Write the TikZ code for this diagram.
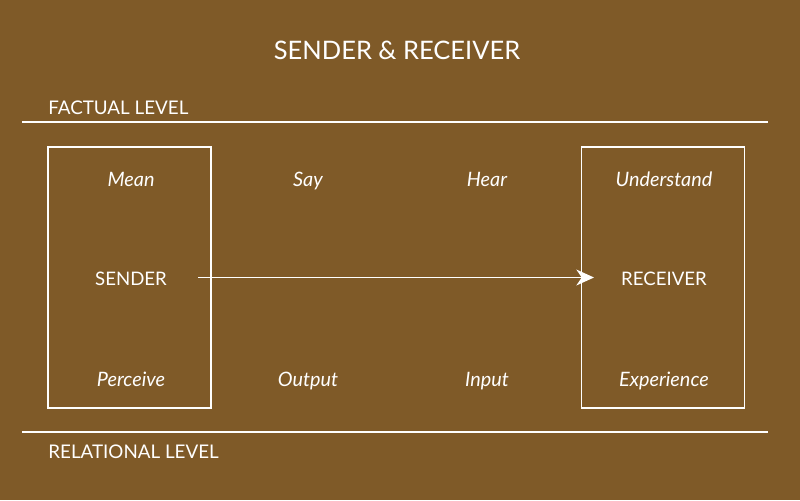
\documentclass[tikz,border=0pt]{standalone}
\usepackage{fontspec}
\setmainfont{Lato}
\usetikzlibrary{arrows.meta}
\definecolor{bgbrown}{RGB}{127,90,40}
\tikzset{
  lvl/.style={anchor=base west, inner sep=0pt, font=\fontsize{10.7}{12}\selectfont},
  word/.style={anchor=base, inner sep=0pt, font=\fontsize{11.3}{13}\selectfont\itshape},
  role/.style={anchor=base, inner sep=0pt, font=\fontsize{10.6}{12}\selectfont},
  frame/.style={draw=white, line width=1pt, minimum width=163*0.02cm, minimum height=261*0.02cm, inner sep=0pt}
}
\begin{document}
\begin{tikzpicture}[x=0.02cm, y=-0.02cm, white]
        \fill[bgbrown] (0,0) rectangle (800,500);
        \node[anchor=base, inner sep=0pt, font=\fontsize{14.5}{16}\selectfont] (title) at (397,60) {SENDER \& RECEIVER};
        % levels
        \node[lvl] (factual) at (48,114) {FACTUAL LEVEL};
        \node[lvl] (relational) at (48,458) {RELATIONAL LEVEL};
        \coordinate (ftl) at (22,122);
        \coordinate (ftr) at (768,122);
        \coordinate (rll) at (22,432);
        \coordinate (rlr) at (768,432);
        \draw[line width=1pt] (ftl)--(ftr);
        \draw[line width=1pt] (rll)--(rlr);
        % boxes
        \node[frame] (leftbox) at (129.5,277.5) {};
        \node[frame] (rightbox) at (663,277.5) {};
        % words
        \node[word] (mean) at (131,186) {Mean};
        \node[word] (say) at (308,186) {Say};
        \node[word] (hear) at (487,186) {Hear};
        \node[word] (understand) at (664,186) {Understand};
        \node[role] (sender) at (131,285) {SENDER};
        \node[role] (receiver) at (664,285) {RECEIVER};
        \node[word] (perceive) at (131,386) {Perceive};
        \node[word] (output) at (308,386) {Output};
        \node[word] (input) at (487,386) {Input};
        \node[word] (experience) at (664,386) {Experience};
        \coordinate (from) at (198,277.5);
        \coordinate (to) at (594,277.5);
        \draw[line width=1.1pt, -{Stealth[length=10pt, width=9pt, inset=3pt]}] (from) -- (to);
    \end{tikzpicture}
\end{document}
